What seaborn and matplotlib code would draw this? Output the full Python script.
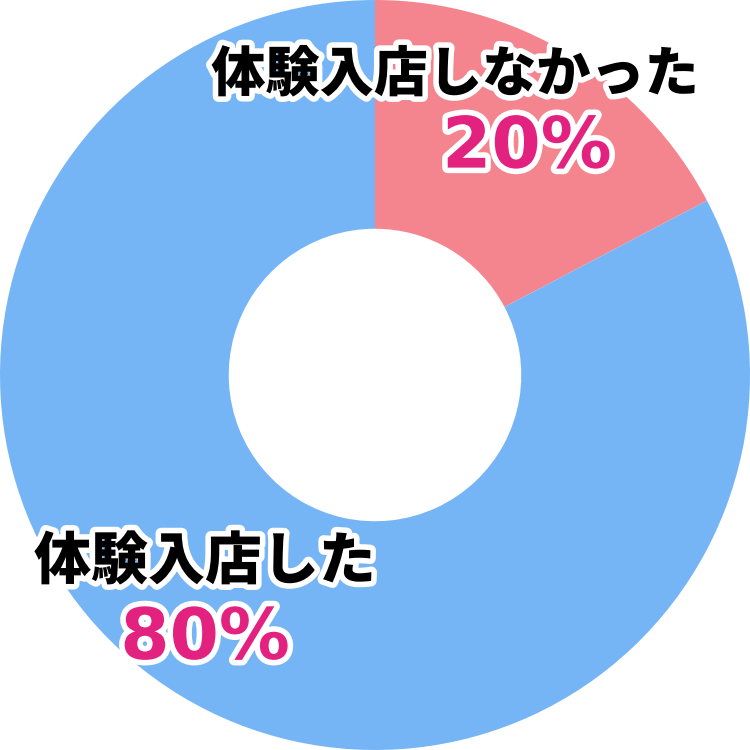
import matplotlib
matplotlib.use("Agg")
import matplotlib.pyplot as plt
import matplotlib.patheffects as pe
import seaborn as sns

# データ
labels = ["体験入店しなかった", "体験入店した"]
shares = [17.3, 82.7]          # 図から読んだ扇形の大きさ
pct_text = ["20%", "80%"]       # 表示されている割合
colors = ["#f4858e", "#76b5f5"]

sns.set_theme(style="white")
plt.rcParams['font.family'] = ['Noto Sans CJK JP', 'DejaVu Sans']

fig = plt.figure(figsize=(7.5, 7.5), dpi=100)
ax = fig.add_axes([0, 0, 1, 1])

ax.pie(shares, colors=colors, startangle=90, counterclock=False,
       radius=1.0, wedgeprops=dict(width=0.61, linewidth=0))
ax.set_xlim(-1, 1)
ax.set_ylim(-1, 1)
ax.set_aspect('equal')
ax.axis('off')

stroke = [pe.withStroke(linewidth=8, foreground='white')]

# ラベル位置
label_pos = [(0.213, 0.80), (-0.453, -0.50)]
pct_pos = [(0.405, 0.605), (-0.453, -0.705)]
label_size = [39, 41]

for lab, pt, (lx, ly), (px, py), fs in zip(labels, pct_text, label_pos, pct_pos, label_size):
    ax.text(lx, ly, lab, ha='center', va='center', fontsize=fs,
            fontweight='black', color='black', path_effects=stroke)
    ax.text(px, py, pt, ha='center', va='center', fontsize=51,
            fontweight='bold', color='#e3217f', path_effects=stroke,
            family=['DejaVu Sans'])

fig.savefig('out.png', dpi=100)
